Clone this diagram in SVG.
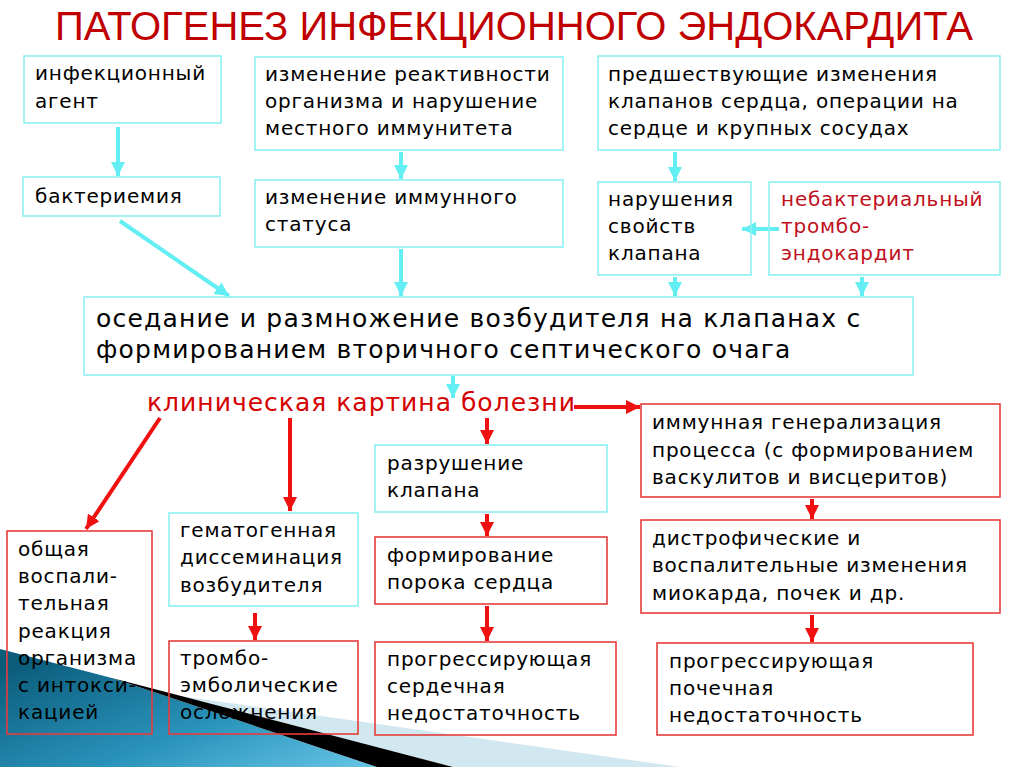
<svg xmlns="http://www.w3.org/2000/svg" width="1024" height="767" viewBox="0 0 1024 767">
<defs>
<style>
.t{font-family:"DejaVu Sans","Liberation Sans",sans-serif;font-size:20px;letter-spacing:0.8px;fill:#000}
.tb{font-family:"DejaVu Sans","Liberation Sans",sans-serif;font-size:25px;letter-spacing:1.2px;fill:#000}
.red{fill:#c0101c}
.cb{fill:none;stroke:#8ef0f2;stroke-width:1.6}
.rb{fill:none;stroke:#e63c3c;stroke-width:1.6}
.ca{stroke:#62eef2;stroke-width:4;fill:none}
.ra{stroke:#f01010;stroke-width:4;fill:none}
</style>
<marker id="ch" markerUnits="userSpaceOnUse" markerWidth="14" markerHeight="14" refX="14" refY="7" orient="auto"><path d="M0,0 L14,7 L0,14 z" fill="#62eef2"/></marker>
<marker id="rh" markerUnits="userSpaceOnUse" markerWidth="14" markerHeight="14" refX="14" refY="7" orient="auto"><path d="M0,0 L14,7 L0,14 z" fill="#f01010"/></marker>
<linearGradient id="blue" x1="0" y1="0.2" x2="1" y2="1">
<stop offset="0" stop-color="#0c5d7c"/>
<stop offset="0.55" stop-color="#2a93bb"/>
<stop offset="1" stop-color="#66c6e6"/>
</linearGradient>
</defs>
<rect width="1024" height="767" fill="#fff"/>
<g id="decoration">
<polygon points="180,696 680,767 453,767" fill="#d2e8f0"/>
<polygon points="0,649 112,678 377,767 0,767" fill="url(#blue)"/>
<polygon points="112,678 453,767 377,767" fill="#000"/>
</g>
<text x="514" y="40" text-anchor="middle" font-family="'Liberation Sans Narrow','Liberation Sans',sans-serif" font-size="40" fill="#c00000" textLength="918" lengthAdjust="spacingAndGlyphs">ПАТОГЕНЕЗ ИНФЕКЦИОННОГО ЭНДОКАРДИТА</text>
<g id="connectors">
<line class="ca" x1="118" y1="127" x2="118" y2="176" marker-end="url(#ch)"/>
<line class="ca" x1="401" y1="152" x2="401" y2="179" marker-end="url(#ch)"/>
<line class="ca" x1="675" y1="152" x2="675" y2="181" marker-end="url(#ch)"/>
<line class="ca" x1="779" y1="229" x2="742" y2="229" marker-end="url(#ch)"/>
<line class="ca" x1="120" y1="221" x2="229" y2="296" marker-end="url(#ch)"/>
<line class="ca" x1="401" y1="249" x2="401" y2="296" marker-end="url(#ch)"/>
<line class="ca" x1="675" y1="277" x2="675" y2="296" marker-end="url(#ch)"/>
<line class="ca" x1="862" y1="277" x2="862" y2="296" marker-end="url(#ch)"/>
<line class="ca" x1="453" y1="376" x2="453" y2="398" marker-end="url(#ch)"/>
<line class="ra" x1="574" y1="407" x2="640" y2="407" marker-end="url(#rh)"/>
<line class="ra" x1="160" y1="418" x2="86" y2="529" marker-end="url(#rh)"/>
<line class="ra" x1="290" y1="418" x2="290" y2="511" marker-end="url(#rh)"/>
<line class="ra" x1="487" y1="418" x2="487" y2="444" marker-end="url(#rh)"/>
<line class="ra" x1="487" y1="514" x2="487" y2="536" marker-end="url(#rh)"/>
<line class="ra" x1="487" y1="606" x2="487" y2="641" marker-end="url(#rh)"/>
<line class="ra" x1="255" y1="613" x2="255" y2="640" marker-end="url(#rh)"/>
<line class="ra" x1="812" y1="499" x2="812" y2="519" marker-end="url(#rh)"/>
<line class="ra" x1="812" y1="615" x2="812" y2="642" marker-end="url(#rh)"/>
</g>
<g id="n-agent"><rect class="cb" x="24" y="56" width="197" height="67"/>
<text class="t" x="35" y="80">инфекционный</text><text class="t" x="35" y="108">агент</text></g>
<g id="n-reactivity"><rect class="cb" x="255" y="57" width="308" height="93"/>
<text class="t" x="265" y="81">изменение реактивности</text><text class="t" x="265" y="108">организма и нарушение</text><text class="t" x="265" y="135">местного иммунитета</text></g>
<g id="n-previous"><rect class="cb" x="598" y="56" width="402" height="94"/>
<text class="t" x="608" y="81">предшествующие изменения</text><text class="t" x="608" y="108">клапанов сердца, операции на</text><text class="t" x="608" y="135">сердце и крупных сосудах</text></g>
<g id="n-bacteremia"><rect class="cb" x="23" y="177" width="197" height="39"/>
<text class="t" x="35" y="203">бактериемия</text></g>
<g id="n-immune-status"><rect class="cb" x="255" y="180" width="308" height="67"/>
<text class="t" x="265" y="204">изменение иммунного</text><text class="t" x="265" y="231">статуса</text></g>
<g id="n-valve-props"><rect class="cb" x="598" y="182" width="153" height="93"/>
<text class="t" x="608" y="206">нарушения</text><text class="t" x="608" y="233">свойств</text><text class="t" x="608" y="260">клапана</text></g>
<g id="n-nbte"><rect class="cb" x="769" y="182" width="231" height="93"/>
<text class="t red" x="781" y="206">небактериальный</text><text class="t red" x="781" y="233">тромбо-</text><text class="t red" x="781" y="260">эндокардит</text></g>
<g id="n-settling"><rect class="cb" x="84" y="297" width="829" height="78"/>
<text class="tb" x="96" y="327">оседание и размножение возбудителя на клапанах с</text><text class="tb" x="96" y="358">формированием вторичного септического очага</text></g>
<g id="n-clinical"><text class="tb" x="147" y="411" style="fill:#d40000;letter-spacing:1px">клиническая картина болезни</text></g>
<g id="n-general"><rect class="rb" x="7" y="531" width="145" height="203"/>
<text class="t" x="18" y="556">общая</text><text class="t" x="18" y="583">воспали-</text><text class="t" x="18" y="610">тельная</text><text class="t" x="18" y="638">реакция</text><text class="t" x="18" y="665">организма</text><text class="t" x="18" y="692">с интокси-</text><text class="t" x="18" y="719">кацией</text></g>
<g id="n-hematogenous"><rect class="cb" x="169" y="513" width="189" height="93"/>
<text class="t" x="180" y="537">гематогенная</text><text class="t" x="180" y="564">диссеминация</text><text class="t" x="180" y="592">возбудителя</text></g>
<g id="n-thrombo"><rect class="rb" x="169" y="641" width="189" height="93"/>
<text class="t" x="180" y="665">тромбо-</text><text class="t" x="180" y="692">эмболические</text><text class="t" x="180" y="719">осложнения</text></g>
<g id="n-destruction"><rect class="cb" x="375" y="445" width="232" height="67"/>
<text class="t" x="387" y="470">разрушение</text><text class="t" x="387" y="497">клапана</text></g>
<g id="n-defect"><rect class="rb" x="375" y="537" width="232" height="67"/>
<text class="t" x="387" y="562">формирование</text><text class="t" x="387" y="589">порока сердца</text></g>
<g id="n-heart-failure"><rect class="rb" x="375" y="642" width="241" height="93"/>
<text class="t" x="387" y="666">прогрессирующая</text><text class="t" x="387" y="693">сердечная</text><text class="t" x="387" y="720">недостаточность</text></g>
<g id="n-immune-gen"><rect class="rb" x="641" y="404" width="359" height="93"/>
<text class="t" x="652" y="429">иммунная генерализация</text><text class="t" x="652" y="457">процесса (с формированием</text><text class="t" x="652" y="484">васкулитов и висцеритов)</text></g>
<g id="n-dystrophic"><rect class="rb" x="641" y="520" width="359" height="93"/>
<text class="t" x="652" y="545">дистрофические и</text><text class="t" x="652" y="572">воспалительные изменения</text><text class="t" x="652" y="600">миокарда, почек и др.</text></g>
<g id="n-renal"><rect class="rb" x="657" y="643" width="316" height="92"/>
<text class="t" x="669" y="668">прогрессирующая</text><text class="t" x="669" y="695">почечная</text><text class="t" x="669" y="722">недостаточность</text></g>
</svg>
